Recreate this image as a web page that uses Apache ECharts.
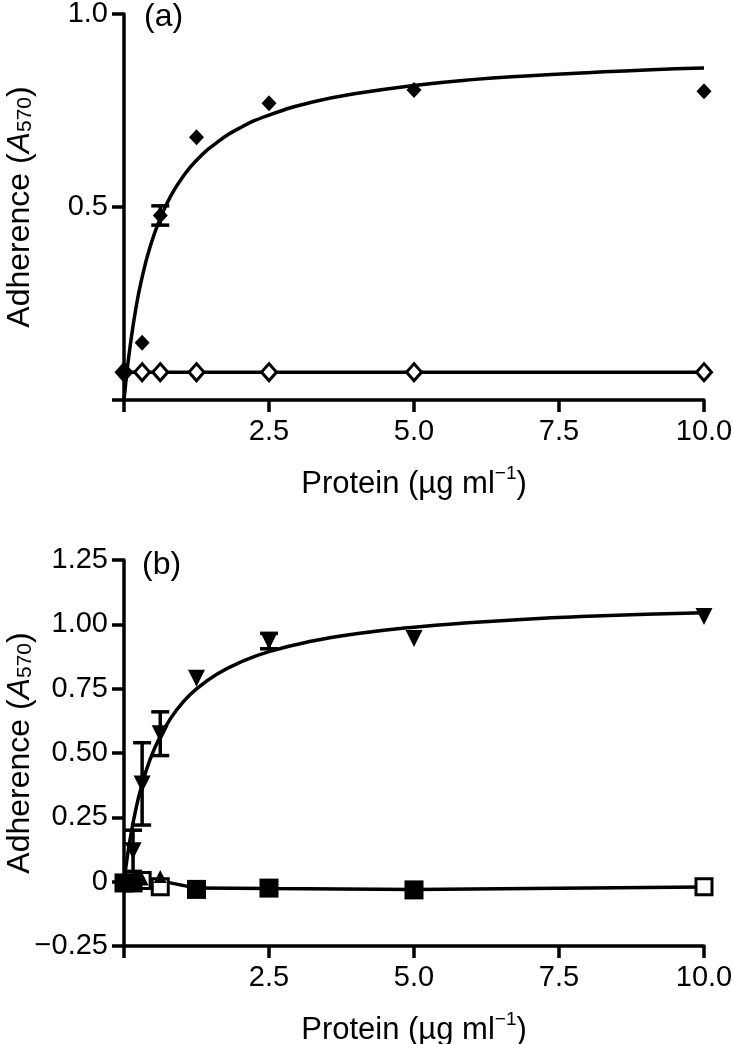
<!DOCTYPE html>
<html>
<head>
<meta charset="utf-8">
<script src="https://cdn.jsdelivr.net/npm/echarts@6/dist/echarts.min.js"></script>
<style>
html,body{margin:0;padding:0;background:#fff;}
#chart{width:733px;height:1044px;}
</style>
</head>
<body>
<div id="chart"></div>
<script>
// ---------- Panel (a) ----------
const xA = [0, 0.3125, 0.625, 1.25, 2.5, 5, 10];
const filledA = [0.07, 0.148, 0.478, 0.681, 0.769, 0.803, 0.80];
const filledErrA = [0, 0, 0.025, 0, 0, 0, 0];
const openA = [0.072, 0.072, 0.072, 0.072, 0.072, 0.072, 0.072];
const fitXA = [0, 0.05, 0.1, 0.2, 0.3, 0.45, 0.625, 0.8, 1, 1.25, 1.6, 2, 2.5, 3.25, 4, 5, 6, 7, 8, 9, 10];
const fitYA = [0, 0.072, 0.133, 0.233, 0.310, 0.397, 0.471, 0.527, 0.575, 0.621, 0.667, 0.705, 0.738, 0.772, 0.794, 0.815, 0.830, 0.840, 0.848, 0.855, 0.860];
const ctrlFitXA = [0, 10];
const ctrlFitYA = [0.072, 0.072];

// ---------- Panel (b) ----------
const xTriB = [0.156, 0.3125, 0.625, 1.25, 2.5, 5, 10];
const triB = [0.12, 0.38, 0.575, 0.79, 0.935, 0.945, 1.03];
const triErrB = [0.08, 0.16, 0.085, 0, 0.03, 0, 0];
const fitXB = [0, 0.05, 0.1, 0.2, 0.3, 0.45, 0.625, 0.8, 1, 1.25, 1.6, 2, 2.5, 3.25, 4, 5, 6, 7, 8, 9, 10];
const fitYB = [0, 0.085, 0.158, 0.277, 0.369, 0.475, 0.565, 0.633, 0.693, 0.749, 0.806, 0.852, 0.894, 0.935, 0.963, 0.989, 1.007, 1.021, 1.031, 1.039, 1.045];
const xFilledSqB = [0, 0.156, 1.25, 2.5, 5];
const filledSqB = [-0.005, -0.005, -0.03, -0.025, -0.032];
const xOpenSqB = [0.3125, 0.625, 10];
const openSqB = [0.005, -0.02, -0.02];
const xUpTriB = [0.3125, 0.625];
const upTriB = [0.01, 0.02];
const lowLineXB = [0, 0.3125, 0.625, 1.25, 2.5, 5, 10];
const lowLineYB = [0, 0.003, 0.003, -0.025, -0.027, -0.03, -0.021];

const xTicks = [0, 2.5, 5.0, 7.5, 10.0];

const FONT = 'Liberation Sans';
const pair = (xs, ys) => xs.map((x, i) => [x, ys[i]]);
const errData = (xs, ys, es) => xs.map((x, i) => [x, ys[i] - es[i], ys[i] + es[i]]).filter((d, i) => es[i] > 0);

function errRender(params, api) {
  const x = api.value(0);
  const lo = api.coord([x, api.value(1)]);
  const hi = api.coord([x, api.value(2)]);
  const w = 9;
  const st = {stroke: '#000', lineWidth: 3.5};
  return {type: 'group', children: [
    {type: 'line', shape: {x1: lo[0], y1: lo[1], x2: hi[0], y2: hi[1]}, style: st},
    {type: 'line', shape: {x1: hi[0] - w, y1: hi[1], x2: hi[0] + w, y2: hi[1]}, style: st},
    {type: 'line', shape: {x1: lo[0] - w, y1: lo[1], x2: lo[0] + w, y2: lo[1]}, style: st}
  ]};
}

const nameRichX = {
  t: {fontSize: 31, fontFamily: FONT, color: '#000', lineHeight: 36, verticalAlign: 'bottom'},
  p: {fontSize: 19, fontFamily: FONT, color: '#000', lineHeight: 19, verticalAlign: 'top'}
};
const nameRichY = {
  t: {fontSize: 32, fontFamily: FONT, color: '#000', lineHeight: 36, verticalAlign: 'bottom'},
  i: {fontSize: 32, fontFamily: FONT, fontStyle: 'italic', color: '#000', lineHeight: 36, verticalAlign: 'bottom'},
  s: {fontSize: 21, fontFamily: FONT, color: '#000', lineHeight: 21, verticalAlign: 'bottom'}
};

function xAxisCfg(gi) {
  return {
    type: 'value', gridIndex: gi, min: xTicks[0], max: xTicks[xTicks.length - 1], interval: 2.5,
    axisLine: {onZero: false, lineStyle: {color: '#000', width: 3.5}},
    axisTick: {show: true, length: 12, lineStyle: {color: '#000', width: 3.5}},
    axisLabel: {
      margin: 17, fontSize: 29, fontFamily: FONT, color: '#000',
      formatter: v => v === 0 ? '' : v.toFixed(1)
    },
    splitLine: {show: false},
    name: '{t|Protein (µg ml}{p|−1}{t|)}',
    nameLocation: 'middle', nameGap: 64, nameMoveOverlap: false,
    nameTextStyle: {rich: nameRichX}
  };
}
function yAxisCfg(gi, min, max, interval, fmt) {
  return {
    type: 'value', gridIndex: gi, min: min, max: max, interval: interval,
    axisLine: {onZero: false, lineStyle: {color: '#000', width: 3.5}},
    axisTick: {show: true, length: 12, lineStyle: {color: '#000', width: 3.5}},
    axisLabel: {margin: 16, fontSize: 29, fontFamily: FONT, color: '#000', formatter: fmt},
    splitLine: {show: false},
    name: '{t|Adherence (}{i|A}{s|570}{t|)}',
    nameLocation: 'middle', nameRotate: 90, nameGap: 88, nameMoveOverlap: false,
    nameTextStyle: {rich: nameRichY}
  };
}

const option = {
  backgroundColor: '#fff',
  animation: false,
  title: [
    {text: '(a)', left: 144, top: 1, padding: 0, textStyle: {fontSize: 32, fontWeight: 'normal', fontFamily: FONT, color: '#000'}},
    {text: '(b)', left: 142, top: 549, padding: 0, textStyle: {fontSize: 32, fontWeight: 'normal', fontFamily: FONT, color: '#000'}}
  ],
  grid: [
    {left: 124, top: 14, width: 580, height: 386, outerBoundsMode: 'none', containLabel: false},
    {left: 124, top: 560, width: 580, height: 386, outerBoundsMode: 'none', containLabel: false}
  ],
  xAxis: [xAxisCfg(0), xAxisCfg(1)],
  yAxis: [
    yAxisCfg(0, 0, 1.0, 0.5, v => v === 0 ? '' : v.toFixed(1)),
    yAxisCfg(1, -0.25, 1.25, 0.25, v => Math.abs(v) < 1e-9 ? '0' : v.toFixed(2).replace('-', '−'))
  ],
  series: [
    // Panel (a)
    {type: 'line', xAxisIndex: 0, yAxisIndex: 0, data: pair(fitXA, fitYA), smooth: true, showSymbol: false,
     lineStyle: {color: '#000', width: 3.5}, z: 2},
    {type: 'line', xAxisIndex: 0, yAxisIndex: 0, data: pair(ctrlFitXA, ctrlFitYA), showSymbol: false,
     lineStyle: {color: '#000', width: 3.5}, z: 2},
    {type: 'custom', xAxisIndex: 0, yAxisIndex: 0, data: errData(xA, filledA, filledErrA), renderItem: errRender, z: 3},
    {type: 'scatter', xAxisIndex: 0, yAxisIndex: 0, data: pair(xA, openA), symbol: 'diamond', symbolSize: [15, 17],
     itemStyle: {color: '#fff', borderColor: '#000', borderWidth: 3, opacity: 1}, z: 4},
    {type: 'scatter', xAxisIndex: 0, yAxisIndex: 0, data: pair(xA, filledA), symbol: 'diamond', symbolSize: [15, 16],
     itemStyle: {color: '#000', opacity: 1}, z: 5},
    // Panel (b)
    {type: 'line', xAxisIndex: 1, yAxisIndex: 1, data: pair(fitXB, fitYB), smooth: true, showSymbol: false,
     lineStyle: {color: '#000', width: 3.5}, z: 2},
    {type: 'line', xAxisIndex: 1, yAxisIndex: 1, data: pair(lowLineXB, lowLineYB), showSymbol: false,
     lineStyle: {color: '#000', width: 3.5}, z: 2},
    {type: 'custom', xAxisIndex: 1, yAxisIndex: 1, data: errData(xTriB, triB, triErrB), renderItem: errRender, z: 3},
    {type: 'scatter', xAxisIndex: 1, yAxisIndex: 1, data: pair(xOpenSqB, openSqB), symbol: 'rect', symbolSize: 16,
     itemStyle: {color: '#fff', borderColor: '#000', borderWidth: 3, opacity: 1}, z: 4},
    {type: 'scatter', xAxisIndex: 1, yAxisIndex: 1, data: pair(xFilledSqB, filledSqB), symbol: 'rect', symbolSize: 19,
     itemStyle: {color: '#000', opacity: 1}, z: 5},
    {type: 'scatter', xAxisIndex: 1, yAxisIndex: 1, data: pair(xUpTriB, upTriB), symbol: 'triangle', symbolSize: 13,
     itemStyle: {color: '#000', opacity: 1}, z: 6},
    {type: 'scatter', xAxisIndex: 1, yAxisIndex: 1, data: pair(xTriB, triB), symbol: 'triangle', symbolRotate: 180, symbolSize: 17,
     itemStyle: {color: '#000', opacity: 1}, z: 6}
  ]
};

const chart = echarts.init(document.getElementById('chart'), null, {renderer: 'canvas'});
chart.setOption(option);
</script>
</body>
</html>
